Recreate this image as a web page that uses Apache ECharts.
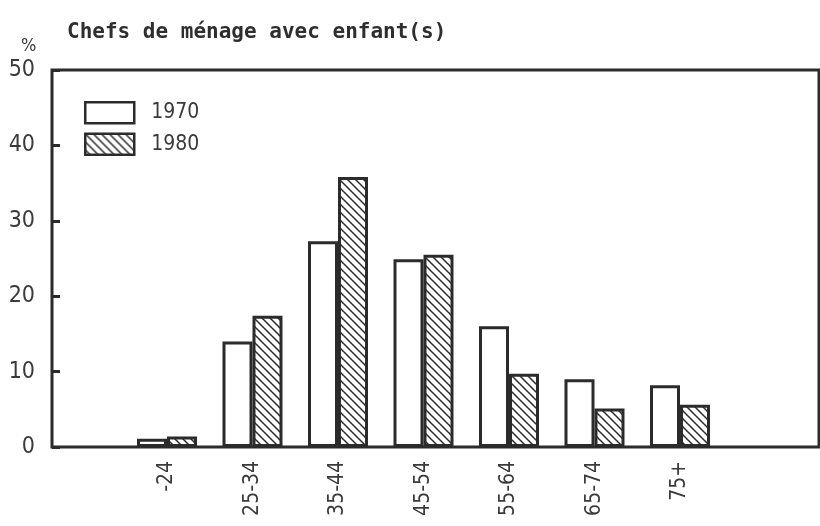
<!DOCTYPE html>
<html>
<head>
<meta charset="utf-8">
<script src="https://cdn.jsdelivr.net/npm/echarts@6/dist/echarts.min.js"></script>
<style>
  html, body { margin: 0; padding: 0; background: #fff; }
  #chart { width: 820px; height: 526px; }
</style>
</head>
<body>
<div id="chart"></div>
<script>
// Age groups of household heads and share (%) with children, 1970 vs 1980
const ageGroups = ['-24', '25-34', '35-44', '45-54', '55-64', '65-74', '75+'];
const seriesNames = ['1970', '1980'];
const values1970 = [1.1, 14.0, 27.3, 24.9, 16.0, 9.0, 8.2];
const values1980 = [1.4, 17.4, 35.8, 25.5, 9.7, 5.1, 5.6];
const yTicks = [0, 10, 20, 30, 40, 50];

const ink = '#2b2b2b';
const textInk = '#3a3a3a';
const labelFont = '"Liberation Sans Narrow", "DejaVu Sans Condensed", "Liberation Sans", sans-serif';

// Diagonal hatch tile for the 1980 bars
function hatchTile() {
  const size = 8;
  const c = document.createElement('canvas');
  c.width = size; c.height = size;
  const g = c.getContext('2d');
  g.fillStyle = '#fff';
  g.fillRect(0, 0, size, size);
  g.strokeStyle = ink;
  g.lineWidth = 1.5;
  g.beginPath();
  g.moveTo(-1, -1); g.lineTo(size + 1, size + 1);
  g.moveTo(-1, size - 1); g.lineTo(1, size + 1);
  g.moveTo(size - 1, -1); g.lineTo(size + 1, 1);
  g.stroke();
  return c;
}

const chart = echarts.init(document.getElementById('chart'), null, { renderer: 'canvas' });

const option = {
  backgroundColor: '#fff',
  animation: false,
  title: {
    text: 'Chefs de ménage avec enfant(s)',
    left: 62,
    top: 17,
    textStyle: {
      fontFamily: '"DejaVu Sans Mono", "Liberation Mono", monospace',
      fontWeight: 'bold',
      fontSize: 21,
      color: '#2e2e2e'
    }
  },
  graphic: [{
    type: 'text',
    left: 21,
    top: 37,
    style: { text: '%', font: '18px ' + labelFont, fill: textInk }
  }],
  legend: {
    orient: 'vertical',
    left: 84,
    top: 101,
    padding: 0,
    itemWidth: 49,
    itemHeight: 21,
    itemGap: 8,
    icon: 'rect',
    textStyle: { fontFamily: labelFont, fontSize: 21, color: textInk, padding: [0, 0, 0, 12] },
    itemStyle: { borderColor: ink, borderWidth: 2.5 },
    data: seriesNames
  },
  grid: [
    // outer frame with the percentage scale
    { left: 52, right: 1, top: 70, bottom: 79, show: true, borderColor: ink, borderWidth: 3, backgroundColor: 'transparent' },
    // bar area
    { left: 124.25, right: 97.25, top: 70, bottom: 79 }
  ],
  xAxis: [
    { gridIndex: 0, type: 'value', min: 0, max: 1, show: false },
    {
      gridIndex: 1,
      type: 'category',
      data: ageGroups,
      boundaryGap: true,
      axisLine: { show: false },
      axisTick: { show: false },
      axisLabel: {
        rotate: 90,
        margin: 14,
        fontFamily: labelFont,
        fontSize: 21,
        color: textInk
      }
    }
  ],
  yAxis: [
    {
      gridIndex: 0,
      type: 'value',
      min: yTicks[0],
      max: yTicks[yTicks.length - 1],
      interval: 10,
      axisLine: { show: false },
      splitLine: { show: false },
      axisTick: { show: true, inside: true, length: 8, lineStyle: { color: ink, width: 3 } },
      axisLabel: {
        margin: 17,
        fontFamily: labelFont,
        fontSize: 23,
        color: textInk,
        verticalAlign: 'middle'
      }
    },
    { gridIndex: 1, type: 'value', min: 0, max: 50, show: false }
  ],
  series: [
    {
      name: seriesNames[0],
      type: 'bar',
      xAxisIndex: 1,
      yAxisIndex: 1,
      data: values1970,
      barWidth: 30,
      barGap: '0%',
      itemStyle: { color: '#fff', borderColor: ink, borderWidth: 3 },
      z: 3
    },
    {
      name: seriesNames[1],
      type: 'bar',
      xAxisIndex: 1,
      yAxisIndex: 1,
      data: values1980,
      barWidth: 30,
      barGap: '0%',
      itemStyle: {
        color: { image: hatchTile(), repeat: 'repeat' },
        borderColor: ink,
        borderWidth: 3
      },
      z: 3
    }
  ]
};

chart.setOption(option);
</script>
</body>
</html>
